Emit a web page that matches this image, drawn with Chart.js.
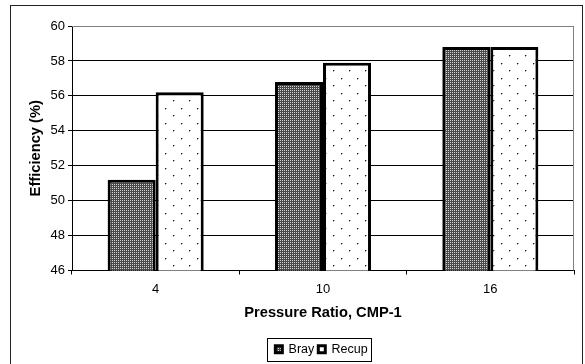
<!DOCTYPE html>
<html>
<head>
<meta charset="utf-8">
<script src="https://cdn.jsdelivr.net/npm/chart.js@4/dist/chart.umd.min.js"></script>
<style>
  html, body { margin: 0; padding: 0; background: #fff; }
  #wrap { width: 585px; height: 364px; }
</style>
</head>
<body>
<div id="wrap"><canvas id="c" width="585" height="364"></canvas></div>
<script>
// ---- data ----
const categories = ['4', '10', '16'];
const brayValues = [51.2, 56.8, 58.8];
const recupValues = [56.2, 57.9, 58.8];
const seriesNames = ['Bray', 'Recup'];
const yMin = 46;
const yMax = 60;
const yStep = 2;
const xTitle = 'Pressure Ratio, CMP-1';
const yTitle = 'Efficiency (%)';

// ---- patterns ----
function makeBrayPattern(ctx) {
  const p = document.createElement('canvas');
  p.width = 2; p.height = 2;
  const g = p.getContext('2d');
  g.fillStyle = '#4a4a4a'; g.fillRect(0, 0, 2, 2);
  g.fillStyle = '#d4d4d4'; g.fillRect(0, 0, 1, 1);
  return ctx.createPattern(p, 'repeat');
}
function makeRecupPattern(ctx) {
  const p = document.createElement('canvas');
  p.width = 16; p.height = 15;
  const g = p.getContext('2d');
  g.fillStyle = '#ffffff'; g.fillRect(0, 0, 16, 15);
  function dot(x, y) {
    g.fillStyle = '#a8a8a8';
    g.fillRect(x + 1, y, 1, 1);
    g.fillRect(x, y + 1, 1, 1);
    g.fillStyle = '#1a1a1a';
    g.fillRect(x, y, 1, 1);
  }
  dot(5, 3);
  dot(13, 10);
  return ctx.createPattern(p, 'repeat');
}

const canvas = document.getElementById('c');
const ctx2d = canvas.getContext('2d');
const brayFill = makeBrayPattern(ctx2d);
const recupFill = makeRecupPattern(ctx2d);

const tickFont = { family: 'Arial, "Liberation Sans", sans-serif', size: 13 };
const legendFont = { family: 'Arial, "Liberation Sans", sans-serif', size: 12.5 };
const titleFont = { family: 'Arial, "Liberation Sans", sans-serif', size: 14.7, weight: 'bold' };

const framePlugin = {
  id: 'frame',
  afterLayout(chart) {
    const lg = chart.legend;
    if (lg) {
      const dx = 21, dy = 1.5;
      lg.left += dx; lg.right += dx;
      lg.top += dy; lg.bottom += dy;
    }
  },
  beforeDatasetsDraw(chart) {
    const ca = chart.chartArea;
    const c = chart.ctx;
    c.save();
    c.strokeStyle = '#808080';
    c.lineWidth = 1;
    c.beginPath();
    c.moveTo(ca.left, Math.round(ca.top) + 0.5);
    c.lineTo(Math.round(ca.right) - 0.5, Math.round(ca.top) + 0.5);
    c.lineTo(Math.round(ca.right) - 0.5, ca.bottom);
    c.stroke();
    c.restore();
  },
  afterDraw(chart) {
    const c = chart.ctx;
    c.save();
    c.strokeStyle = '#222';
    c.lineWidth = 1;
    c.strokeRect(10.5, 5.5, 572, 420);
    const hb = chart.legend && chart.legend.legendHitBoxes;
    if (hb && hb.length) {
      const first = hb[0], last = hb[hb.length - 1];
      const cy = first.top + first.height / 2;
      const l = Math.round(first.left - 8) + 0.5;
      const r = Math.round(last.left + last.width + 3) + 0.5;
      const t = Math.round(cy - 11.5) + 0.5;
      const b = Math.round(cy + 11.5) + 0.5;
      c.strokeStyle = '#000';
      c.strokeRect(l, t, r - l, b - t);
    }
    c.restore();
  }
};

new Chart(canvas, {
  type: 'bar',
  data: {
    labels: categories,
    datasets: [
      {
        label: seriesNames[0],
        data: brayValues,
        backgroundColor: brayFill,
        borderColor: '#000',
        borderWidth: 3,
        borderSkipped: false,
        categoryPercentage: 0.574,
        barPercentage: 1.0
      },
      {
        label: seriesNames[1],
        data: recupValues,
        backgroundColor: recupFill,
        borderColor: '#000',
        borderWidth: 3,
        borderSkipped: false,
        categoryPercentage: 0.574,
        barPercentage: 1.0
      }
    ]
  },
  options: {
    responsive: false,
    animation: false,
    devicePixelRatio: 1,
    layout: { padding: { left: 27, right: 11, top: 26, bottom: 0 } },
    plugins: {
      legend: {
        position: 'bottom',
        labels: {
          boxWidth: 7,
          boxHeight: 7,
          padding: 4,
          color: '#000',
          font: legendFont
        }
      },
      tooltip: { enabled: false }
    },
    scales: {
      x: {
        grid: {
          display: true,
          drawOnChartArea: false,
          drawTicks: true,
          tickLength: 4,
          color: '#000',
          offset: true
        },
        border: { display: true, color: '#000', width: 1 },
        ticks: { color: '#000', font: tickFont, padding: 7, maxRotation: 0 },
        title: {
          display: true,
          text: xTitle,
          color: '#000',
          font: titleFont,
          padding: { top: 0, bottom: 16 }
        },
        afterFit(scale) { scale.height = 67; }
      },
      y: {
        min: yMin,
        max: yMax,
        ticks: { stepSize: yStep, color: '#000', font: tickFont, padding: 3 },
        grid: {
          color: (c) => (c.tick && c.tick.value === yMax ? '#808080' : '#000'),
          tickColor: '#000',
          tickLength: 4,
          drawTicks: true
        },
        border: { display: true, color: '#000', width: 1 },
        title: {
          display: true,
          text: yTitle,
          color: '#000',
          font: titleFont,
          padding: { top: 0, bottom: 0 }
        },
        afterFit(scale) { scale.width = 45; }
      }
    }
  },
  plugins: [framePlugin]
});
</script>
</body>
</html>
